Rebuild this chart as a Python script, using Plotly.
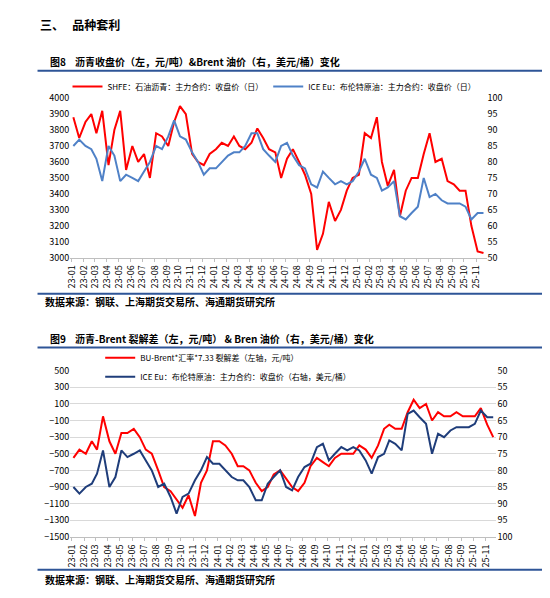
import plotly.graph_objects as go

months = ["2023-%02d" % m for m in range(1, 13)] + ["2024-%02d" % m for m in range(1, 13)] + ["2025-%02d" % m for m in range(1, 12)]
dates = []
for m in months:
    dates += [m + "-05", m + "-20"]

# asphalt close (left, yuan/t)
bu_close = [3880, 3750, 3850, 3900, 3780, 3920, 3580, 3800, 3920, 3550,
            3700, 3600, 3650, 3500, 3780, 3760, 3700, 3850, 3950, 3900,
            3650, 3600, 3580, 3650, 3680, 3720, 3700, 3760, 3700, 3680,
            3720, 3810, 3750, 3680, 3660, 3500, 3620, 3680, 3600, 3520,
            3400, 3050, 3150, 3350, 3230, 3300, 3420, 3500, 3520, 3780,
            3750, 3880, 3600, 3450, 3550, 3260, 3420, 3500, 3500, 3650,
            3780, 3600, 3620, 3480, 3460, 3420, 3420, 3200, 3040, 3030]
# brent close (right, usd/bbl)
brent = [85, 87, 85, 84, 81, 74, 85, 82, 74, 76,
         75, 74, 77, 80, 85, 84, 88, 93, 88, 87,
         83, 80, 76, 78, 78, 80, 82, 83, 83, 85,
         89, 89, 84, 82, 80, 85, 86, 82, 79, 78,
         73, 72, 77, 75, 73, 74, 73, 74, 77, 81,
         76, 75, 71, 72, 74, 63, 62, 64, 66, 75,
         69, 70, 68, 67, 67, 67, 66, 62, 64, 64]
# crack spread BU-Brent*fx*7.33 (yuan/t)
crack = [-550, -450, -500, -350, -450, -50, -350, -500, -250, -250,
         -200, -300, -450, -500, -700, -900, -950, -1050, -1150, -1000,
         -1250, -850, -700, -350, -350, -400, -500, -650, -650, -700,
         -850, -950, -900, -750, -700, -800, -900, -950, -850, -650,
         -550, -600, -650, -550, -500, -500, -500, -400, -450, -550,
         -400, -200, -150, -200, -200, 0, 150, 50, 100, -100,
         0, -50, -50, 0, -50, -50, -50, 50, -150, -300]

RED = "#ff0000"
BLUE1 = "#4f81c7"
BLUE2 = "#1f3d7a"
FONT = "Noto Sans CJK SC"

fig = go.Figure()
fig.add_trace(go.Scatter(x=dates, y=bu_close, mode="lines", line=dict(color=RED, width=2),
                         name="SHFE：石油沥青：主力合约：收盘价（日）", xaxis="x", yaxis="y", legend="legend"))
fig.add_trace(go.Scatter(x=dates, y=brent, mode="lines", line=dict(color=BLUE1, width=2),
                         name="ICE Eu：布伦特原油：主力合约：收盘价（日）", xaxis="x", yaxis="y2", legend="legend"))
fig.add_trace(go.Scatter(x=dates, y=crack, mode="lines", line=dict(color=RED, width=2),
                         name="BU-Brent*汇率*7.33 裂解差（左轴，元/吨）", xaxis="x2", yaxis="y3", legend="legend2"))
fig.add_trace(go.Scatter(x=dates, y=brent, mode="lines", line=dict(color=BLUE2, width=2),
                         name="ICE Eu：布伦特原油：主力合约：收盘价（右轴，美元/桶）", xaxis="x2", yaxis="y4", legend="legend2"))

xcommon = dict(type="date", range=["2022-12-28", "2025-11-28"], dtick="M1", tick0="2023-01-01",
               tickformat="%y-%m", tickangle=-90, showgrid=False, showline=True, linecolor="#bfbfbf",
               ticks="outside", ticklen=3, tickcolor="#bfbfbf", tickfont=dict(size=9))
ycommon = dict(showline=False, tickfont=dict(size=9), zeroline=False)

fig.update_layout(
    width=550, height=598, margin=dict(l=0, r=0, t=0, b=0),
    paper_bgcolor="white", plot_bgcolor="white",
    font=dict(family=FONT, color="black", size=9),
    showlegend=True,
    xaxis=dict(domain=[0.105, 0.869], anchor="y", **xcommon),
    yaxis=dict(domain=[0.585, 0.858], range=[3000, 4000], dtick=100, showgrid=False, **ycommon),
    yaxis2=dict(overlaying="y", side="right", range=[50, 100], dtick=5, showgrid=False, anchor="x", **ycommon),
    xaxis2=dict(domain=[0.105, 0.887], anchor="y3", **xcommon),
    yaxis3=dict(domain=[0.108, 0.392], range=[-1500, 500], dtick=200, tick0=100, showgrid=True,
                gridcolor="#d9d9d9", **ycommon),
    yaxis4=dict(overlaying="y3", side="right", range=[100, 50], dtick=5, showgrid=False, anchor="x2", **ycommon),
    legend=dict(orientation="h", x=0.1, y=1 - 73 / 598, yanchor="middle", font=dict(size=8),
                itemwidth=30, bgcolor="rgba(0,0,0,0)"),
    legend2=dict(orientation="v", x=0.16, y=1 - 360 / 598, yanchor="middle", font=dict(size=8),
                 tracegroupgap=0, bgcolor="rgba(0,0,0,0)"),
)

texts = [
    (0.045, 10, "三、   品种套利", 12),
    (0.065, 48, "图8    沥青收盘价（左，元/吨）&Brent 油价（右，美元/桶）变化", 10),
    (0.055, 293, "数据来源：钢联、上海期货交易所、海通期货研究所", 10),
    (0.065, 331, "图9    沥青-Brent 裂解差（左，元/吨） & Bren 油价（右，美元/桶）变化", 10),
    (0.055, 577, "数据来源：钢联、上海期货交易所、海通期货研究所", 10),
]
for x, py, t, s in texts:
    fig.add_annotation(x=x, y=1 - py / 598, xref="paper", yref="paper", text="<b>" + t + "</b>",
                       showarrow=False, xanchor="left", yanchor="middle", font=dict(size=s))
for py in [57, 285, 340, 567]:
    fig.add_shape(type="line", xref="paper", yref="paper", x0=0.045, x1=0.985,
                  y0=1 - py / 598, y1=1 - py / 598, line=dict(color="#2e5597", width=2))

fig.write_html("out.html")
